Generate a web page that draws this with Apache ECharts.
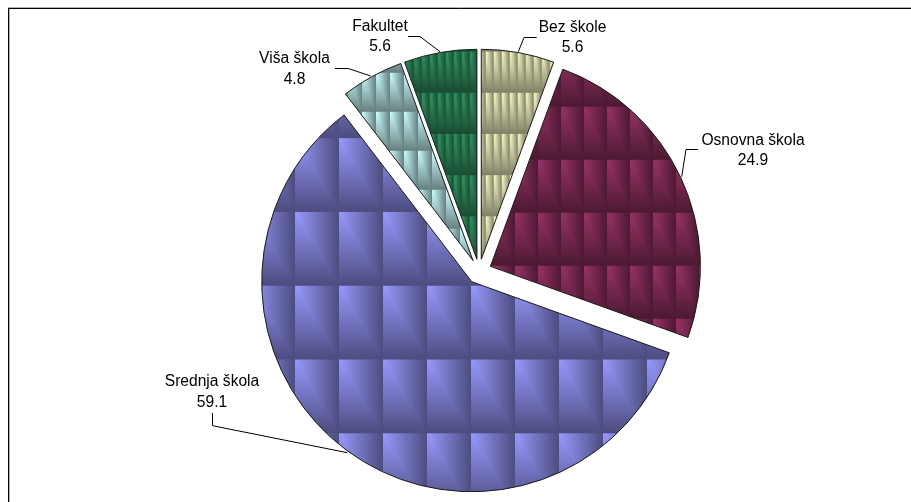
<!DOCTYPE html>
<html><head><meta charset="utf-8">
<style>html,body{margin:0;padding:0;background:#fff}#c{width:911px;height:502px}</style>
<script src="https://cdn.jsdelivr.net/npm/echarts@6/dist/echarts.min.js"></script>
</head><body><div id="c"></div>
<script>
const categories = ['Bez škole','Osnovna škola','Srednja škola','Viša škola','Fakultet'];
const values = [5.6,24.9,59.1,4.8,5.6];
const palette = [[255,255,204],[153,51,102],[153,153,255],[204,255,255],[51,153,102]];
// texture tile: width, height, page-space origin
const tiles = [
 {w:8,h:41.2,ox:485.7,oy:92.7},
 {w:23,h:53,ox:515,oy:106.7},
 {w:44,h:73.8,ox:295,oy:285.7},
 {w:14,h:39,ox:376,oy:72.7},
 {w:8,h:41.2,ox:421.7,oy:92.7}
];
// label centre and leader polyline per slice
const labelSpots = [
 {x:572.5,y:37.5,line:[[518.3,51.7],[524,37.5],[536.7,37.5]]},
 {x:753,y:150.5,line:[[681.7,176.7],[686,149.5],[698,149.5]]},
 {x:212,y:392,line:[[347.3,452.7],[212.5,425.7],[212.5,413]]},
 {x:294.5,y:69,line:[[370.7,76],[348.3,68.5],[335,68.5]]},
 {x:380,y:36.5,line:[[440,51.7],[420,36.5],[408,36.5]]}
];
const center=[479.1,271.6], radius=210, explode=12.5;

function tile(rgb,w,h){
  const W=Math.round(w),H=Math.round(h);
  const cv=document.createElement('canvas');cv.width=W;cv.height=H;
  const g=cv.getContext('2d'),im=g.createImageData(W,H);
  for(let y=0;y<H;y++)for(let x=0;x<W;x++){
    const t=Math.max((x+.5)/W,(y+.5)/H),k=1-0.5*t,i=(y*W+x)*4;
    im.data[i]=rgb[0]*k;im.data[i+1]=rgb[1]*k;im.data[i+2]=rgb[2]*k;im.data[i+3]=255;
  }
  g.putImageData(im,0,0);return {cv,sx:w/W,sy:h/H};
}
const total=values.reduce((a,b)=>a+b,0);
let acc=0;
const data=values.map((v,i)=>{
  const mid=(acc+v/2)/total*2*Math.PI;acc+=v;
  const dx=Math.sin(mid)*explode,dy=-Math.cos(mid)*explode;
  const T=tiles[i],p=tile(palette[i],T.w,T.h);
  return {name:categories[i],value:v,selected:true,
    itemStyle:{color:{image:p.cv,repeat:'repeat',x:T.ox-dx,y:T.oy-dy,scaleX:p.sx,scaleY:p.sy}}};
});
const labelData=values.map((v,i)=>({name:categories[i],value:v}));
const chart=echarts.init(document.getElementById('c'),null,{renderer:'canvas'});
chart.setOption({
  animation:false,backgroundColor:'#fff',
  graphic:[
   {type:'line',silent:true,shape:{x1:8,y1:7.5,x2:911,y2:7.5},style:{stroke:'#b4b4b4',lineWidth:1}},
   {type:'line',silent:true,shape:{x1:9.5,y1:8,x2:9.5,y2:502},style:{stroke:'#b4b4b4',lineWidth:1}},
   {type:'line',silent:true,shape:{x1:8,y1:8.5,x2:911,y2:8.5},style:{stroke:'#000',lineWidth:1}},
   {type:'line',silent:true,shape:{x1:8.5,y1:8,x2:8.5,y2:502},style:{stroke:'#000',lineWidth:1}}
  ],
  series:[{
    type:'pie',center:center,radius:[0,radius],startAngle:90,clockwise:true,
    selectedMode:'multiple',selectedOffset:explode,silent:true,avoidLabelOverlap:false,
    itemStyle:{borderColor:'#1a1a1a',borderWidth:1},
    select:{itemStyle:{borderColor:'#1a1a1a',borderWidth:1}},
    label:{show:false},labelLine:{show:false},
    data:data
  },{
    type:'pie',center:center,radius:[0,radius],startAngle:90,clockwise:true,
    silent:true,avoidLabelOverlap:false,selectedMode:false,
    itemStyle:{color:'rgba(0,0,0,0)',borderWidth:0},
    label:{show:true,formatter:'{b}\n{c}',color:'#000',fontFamily:'"Liberation Sans",Arial,sans-serif',fontSize:15.6,lineHeight:20.5,align:'center'},
    labelLine:{show:true,smooth:false,lineStyle:{color:'#000',width:1}},
    labelLayout:function(p){const s=labelSpots[p.dataIndex];
      return {x:s.x,y:s.y,align:'center',verticalAlign:'middle',labelLinePoints:s.line};},
    data:labelData
  }]
});
</script></body></html>
